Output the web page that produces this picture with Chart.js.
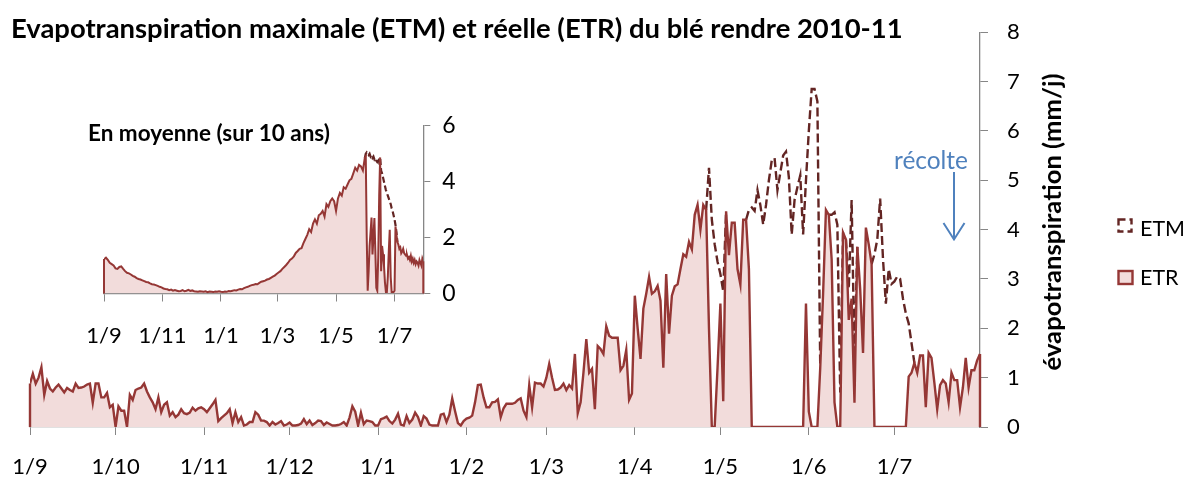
<!DOCTYPE html>
<html>
<head>
<meta charset="utf-8">
<title>ETM et ETR du blé 2010-11</title>
<script src="https://cdn.jsdelivr.net/npm/chart.js@4.4.1/dist/chart.umd.min.js"></script>
<style>
  html, body { margin: 0; padding: 0; background: #fff; }
  #wrap { position: relative; width: 1195px; height: 479px; overflow: hidden; }
  #main { position: absolute; left: 0; top: 0; }
  #inset { position: absolute; left: 60px; top: 100px; }
</style>
</head>
<body>
<div id="wrap">
  <canvas id="main" width="1195" height="479"></canvas>
  <canvas id="inset" width="400" height="250"></canvas>
</div>
<script>
// Colours and fonts
const FONT = 'Lato, "Open Sans", sans-serif';
const AXIS_GREY = '#868686';
const ETR_LINE = '#953735';
const ETR_FILL = '#F2DCDB';
const ETM_LINE = '#632523';
const NOTE_BLUE = '#4F81BD';

// Month ticks (day index from 1 Sept 2010)
const monthTicks = [0, 30, 61, 91, 122, 153, 181, 212, 242, 273, 303];
const monthLabels = ['1/9', '1/10', '1/11', '1/12', '1/1', '1/2', '1/3', '1/4', '1/5', '1/6', '1/7'];
const insetTicks = [0, 61, 122, 181, 242, 303];
const insetLabels = ['1/9', '1/11', '1/1', '1/3', '1/5', '1/7'];

// ETR 2010-11, one value per day (mm/j), 1/9 -> 31/7
const etr = [
  0.88, 1.08, 0.88, 1.0, 1.21, 0.65, 0.93, 0.78, 0.72, 0.8,
  0.86, 0.78, 0.7, 0.79, 0.75, 0.72, 0.88, 0.79, 0.8, 0.82,
  0.86, 0.88, 0.49, 0.88, 0.88, 0.6, 0.6, 0.69, 0.4, 0.45,
  0, 0.42, 0.33, 0.33, 0, 0.65, 0.55, 0.75, 0.78, 0.8,
  0.88, 0.72, 0.6, 0.5, 0.36, 0.6, 0.3, 0.45, 0.5, 0.23,
  0.3, 0.2, 0.25, 0.36, 0.28, 0.26, 0.29, 0.39, 0.33, 0.38,
  0.4, 0.36, 0.3, 0.38, 0.46, 0.55, 0.12, 0.18, 0.23, 0.28,
  0.36, 0.08, 0.3, 0.1, 0.2, 0.03, 0.05, 0.1, 0.1, 0.3,
  0.25, 0.13, 0.13, 0.1, 0.03, 0.1, 0.05, 0.08, 0.12, 0.03,
  0.05, 0.09, 0.03, 0.03, 0.04, 0.07, 0.16, 0.06, 0.13, 0.04,
  0.08, 0.13, 0.12, 0.04, 0.09, 0.06, 0.03, 0.03, 0.04, 0.06,
  0.1, 0.03, 0.19, 0.42, 0.31, 0.03, 0.29, 0.06, 0.13, 0.12,
  0.1, 0.03, 0.03, 0.16, 0.18, 0.21, 0.12, 0.07, 0.15, 0.27,
  0.05, 0.03, 0.22, 0.08, 0.15, 0.29, 0.2, 0.03, 0.22, 0.17,
  0.05, 0.03, 0.03, 0.03, 0.25, 0.27, 0.1, 0.25, 0.58, 0.32,
  0.08, 0.03, 0.12, 0.17, 0.19, 0.23, 0.5, 0.85, 0.86, 0.6,
  0.4, 0.4, 0.5, 0.51, 0.56, 0.2, 0.38, 0.47, 0.47, 0.47,
  0.49, 0.55, 0.58, 0.33, 0.2, 0.85, 0.4, 0.9, 0.88, 0.88,
  0.82, 1.0, 1.28, 1.0, 0.75, 0.76, 0.8, 0.88, 0.75, 0.85,
  0.78, 1.48, 0.28, 0.5, 1.1, 1.78, 1.1, 1.18, 0.36, 1.64,
  1.58, 1.48, 2.04, 1.85, 1.81, 1.81, 1.81, 1.15, 1.24, 1.56,
  0.55, 0.68, 2.66, 2.0, 1.38, 2.4, 2.7, 3.04, 2.7, 2.75,
  2.86, 2.56, 1.2, 3.1, 1.89, 2.66, 2.85, 2.89, 3.2, 3.5,
  3.45, 3.75, 3.6, 4.3, 4.5, 4.0, 4.5, 4.4, 2.0, 0,
  0, 1.2, 2.5, 0.52, 4.37, 3.48, 4.14, 4.14, 3.2, 2.89,
  4.2, 4.2, 3.2, 0, 0, 0, 0, 0, 0, 0,
  0, 0, 0, 0, 0, 0, 0, 0, 0, 0,
  0, 0, 2.5, 0.31, 0, 0, 0, 1.2, 2.7, 4.4,
  4.3, 3.4, 0.5, 0, 0, 3.94, 3.8, 2.17, 2.6, 0.49,
  3.65, 2.8, 1.5, 4.04, 3.7, 3.3, 0, 0, 0, 0,
  0, 0, 0, 0, 0, 0, 0, 0, 1.02, 1.1,
  1.3, 1.1, 1.45, 1.45, 0.4, 1.5, 1.4, 0.9, 0.36, 0.85,
  0.95, 0.88, 0.5, 1.1, 0.95, 0.95, 0.4, 0.8, 1.4, 0.8,
  1.15, 1.15, 1.35, 1.48
];

// ETM where it is above ETR (elsewhere ETM = ETR)
const etmDays = [
  238, 239, 240, 241, 242, 243,
  252, 253, 254, 255, 256, 257, 258, 259, 260, 261, 262, 263, 264, 265,
  266, 267, 268, 269, 270, 271, 272, 273, 274, 275, 276,
  281, 282, 283, 284, 287, 288, 289,
  296, 297, 298, 299, 300, 301, 302, 303, 304, 305, 306, 307, 308, 309
];
const etmValues = [
  5.25, 4.2, 3.7, 3.35, 3.1, 2.75,
  4.4, 4.45, 4.38, 4.8, 4.5, 4.1, 4.5, 5.0, 5.4, 5.45, 4.8, 5.15, 5.5, 5.58,
  5.06, 3.9, 4.6, 4.86, 5.1, 3.9, 5.0, 6.0, 6.85, 6.85, 6.6,
  4.3, 4.35, 4.1, 0.7, 2.8, 4.6, 1.4,
  3.5, 3.8, 4.63, 3.4, 2.5, 3.2, 2.9, 2.95, 3.05, 3.0, 2.6, 2.3, 2.1, 1.7
];

// Inset: 10-year mean ETR, every 2 days from day 0 to day 272
const insetEtrEarly = [
  1.23, 1.28, 1.2, 1.1, 1.05, 1.0, 0.9, 0.88, 0.95, 0.97, 0.88, 0.8, 0.74, 0.72, 0.68, 0.63,
  0.6, 0.55, 0.52, 0.5, 0.47, 0.44, 0.41, 0.4, 0.36, 0.33, 0.32, 0.3, 0.27, 0.24, 0.22,
  0.18, 0.16, 0.15, 0.12, 0.14, 0.1, 0.12, 0.1, 0.08, 0.09, 0.12, 0.08, 0.1, 0.13, 0.09, 0.11, 0.08, 0.07, 0.06, 0.08,
  0.07, 0.06, 0.08, 0.05, 0.07, 0.06, 0.05, 0.07, 0.06, 0.08, 0.06, 0.05, 0.07, 0.06, 0.09, 0.08, 0.1, 0.12, 0.11, 0.14,
  0.16, 0.15, 0.19, 0.22, 0.24, 0.27, 0.3, 0.31, 0.34, 0.33, 0.38, 0.42, 0.44, 0.46, 0.5, 0.52, 0.56, 0.6, 0.64, 0.7,
  0.75, 0.8, 0.88, 0.95, 1.02, 1.1, 1.2, 1.25, 1.33, 1.45, 1.52, 1.6, 1.62, 1.8, 1.95, 2.1, 2.3, 2.2, 2.5, 2.65,
  2.5, 2.8, 2.85, 2.95, 2.75, 3.2, 3.1, 3.3, 3.4, 3.3, 2.95, 3.4, 3.6, 3.5, 3.8, 3.75, 3.9, 4.05, 4.1, 4.3,
  4.5, 4.4, 4.6, 4.55, 4.4, 4.85
];
// Inset: daily from day 273 to day 333
const insetEtrLate = [
  4.9, 2.0, 0.1, 0.8, 1.7, 2.2, 2.72, 1.4, 2.0, 2.7,
  1.5, 0.2, 0.1, 1.3, 3.5, 4.87, 0.8, 1.7, 1.4, 1.0,
  0.4, 0.05, 0.05, 0.6, 1.5, 2.28, 0.6, 0.05, 0.05, 0.05,
  0.1, 2.4, 2.1, 1.84, 1.75, 1.6, 1.65, 1.44, 1.5, 1.6,
  1.45, 1.4, 1.35, 1.38, 1.25, 1.3, 1.2, 1.35, 1.15, 1.25,
  1.1, 1.2, 1.05, 1.15, 1.1, 1.0, 1.2, 1.1, 1.0, 1.25,
  1.15
];
// Inset: mean ETM from day 273 to day 306
const insetEtmLate = [
  5.0, 5.05, 5.0, 4.95, 5.0, 4.9, 4.95, 4.85, 4.9, 4.8,
  4.85, 4.75, 4.7, 4.75, 4.6, 4.87, 4.4, 4.3, 4.15, 4.0,
  3.85, 3.7, 3.6, 3.5, 3.4, 3.3, 3.2, 3.05, 2.95, 2.8,
  2.65, 2.45, 2.2, 1.84
];

// Build points
const etrPoints = etr.map((v, i) => ({ x: i, y: v }));
const etmPoints = etr.map((v, i) => {
  const k = etmDays.indexOf(i);
  return { x: i, y: k >= 0 ? etmValues[k] : v };
});
const insetEtrPoints = insetEtrEarly.map((v, i) => ({ x: i * 2, y: v }))
  .concat(insetEtrLate.map((v, i) => ({ x: 273 + i, y: v })));
const insetEtmPoints = insetEtrEarly.map((v, i) => ({ x: i * 2, y: v }))
  .concat(insetEtrLate.map((v, i) => ({ x: 273 + i, y: i < insetEtmLate.length ? insetEtmLate[i] : v })));

// Hide ETM segments lying on top of ETR
function etmSegment(etmPts, etrPts) {
  return (ctx) => {
    const a = ctx.p0DataIndex, b = ctx.p1DataIndex;
    if (etmPts[a].y === etrPts[a].y && etmPts[b].y === etrPts[b].y) return 'rgba(0,0,0,0)';
    return ETM_LINE;
  };
}

function fitText(ctx, text, weight, width) {
  ctx.font = `${weight} 20px ${FONT}`;
  const size = 20 * width / ctx.measureText(text).width;
  ctx.font = `${weight} ${size.toFixed(2)}px ${FONT}`;
  return size;
}

// Excel draws the area outline down to the axis at both ends
const areaEdges = {
  id: 'areaEdges',
  afterDatasetsDraw(chart) {
    const pts = chart.getDatasetMeta(0).data;
    const y0 = chart.scales.y.getPixelForValue(0);
    const ctx = chart.ctx;
    ctx.save();
    ctx.strokeStyle = ETR_LINE;
    ctx.lineWidth = chart.data.datasets[0].borderWidth;
    ctx.beginPath();
    [pts[0], pts[pts.length - 1]].forEach(p => {
      ctx.moveTo(p.x, p.y);
      ctx.lineTo(p.x, y0);
    });
    ctx.stroke();
    ctx.restore();
  }
};

const mainDecor = {
  id: 'mainDecor',
  afterDraw(chart) {
    const ctx = chart.ctx;
    ctx.save();
    // title
    ctx.fillStyle = '#000';
    ctx.textAlign = 'left';
    ctx.textBaseline = 'alphabetic';
    fitText(ctx, 'Evapotranspiration maximale (ETM) et réelle (ETR) du blé rendre 2010-11', 'bold', 892);
    ctx.fillText('Evapotranspiration maximale (ETM) et réelle (ETR) du blé rendre 2010-11', 11, 38);

    // y axis title, reading upwards
    ctx.save();
    ctx.translate(1053, 222);
    ctx.rotate(-Math.PI / 2);
    ctx.textAlign = 'center';
    ctx.textBaseline = 'middle';
    fitText(ctx, 'évapotranspiration (mm/j)', 'bold', 297);
    ctx.fillText('évapotranspiration (mm/j)', 0, 0);
    ctx.restore();

    // harvest note
    ctx.fillStyle = NOTE_BLUE;
    fitText(ctx, 'récolte', 'normal', 74);
    ctx.fillText('récolte', 894, 169);
    ctx.strokeStyle = NOTE_BLUE;
    ctx.lineWidth = 2;
    ctx.beginPath();
    ctx.moveTo(954, 172);
    ctx.lineTo(954, 239);
    ctx.moveTo(943.5, 223);
    ctx.lineTo(954, 239.5);
    ctx.lineTo(964.5, 223);
    ctx.stroke();

    // legend
    ctx.lineWidth = 2.4;
    ctx.strokeStyle = ETM_LINE;
    ctx.setLineDash([7, 4]);
    ctx.strokeRect(1118.5, 219.5, 13, 12);
    ctx.setLineDash([]);
    ctx.fillStyle = ETR_FILL;
    ctx.fillRect(1118.5, 271, 14, 13);
    ctx.strokeStyle = ETR_LINE;
    ctx.strokeRect(1118.5, 271, 14, 13);
    ctx.fillStyle = '#000';
    fitText(ctx, 'ETM', 'normal', 45);
    ctx.fillText('ETM', 1140, 236);
    ctx.fillText('ETR', 1140, 285);
    ctx.restore();
  }
};

const insetDecor = {
  id: 'insetDecor',
  afterDraw(chart) {
    const ctx = chart.ctx;
    ctx.save();
    ctx.fillStyle = '#000';
    ctx.textAlign = 'left';
    ctx.textBaseline = 'alphabetic';
    fitText(ctx, 'En moyenne (sur 10 ans)', 'bold', 242);
    ctx.fillText('En moyenne (sur 10 ans)', 28, 41);
    ctx.restore();
  }
};

function axisX(ticks, labels, height, padding) {
  return {
    type: 'linear', min: 0, max: 333,
    afterBuildTicks: (s) => { s.ticks = ticks.map(v => ({ value: v })); },
    // fixed height, and no extra side padding for the end labels
    afterFit: (s) => { s.height = height; s.paddingLeft = 0; s.paddingRight = 0; },
    grid: { drawOnChartArea: false, drawTicks: true, tickLength: 8, color: AXIS_GREY, lineWidth: 1 },
    border: { display: true, color: AXIS_GREY, width: 1.3 },
    ticks: {
      autoSkip: false, maxRotation: 0, padding: padding, color: '#000',
      font: { family: FONT, size: 22 },
      callback: (v, i) => labels[i]
    }
  };
}

function axisY(max, step, width, tickLength, padding, size) {
  return {
    position: 'right', min: 0, max: max,
    afterFit: (s) => { s.width = width; },
    grid: { drawOnChartArea: false, drawTicks: true, tickLength: tickLength, color: AXIS_GREY, lineWidth: 1 },
    border: { display: true, color: AXIS_GREY, width: 1.3 },
    ticks: { stepSize: step, padding: padding, color: '#000', font: { family: FONT, size: size } }
  };
}

// Main chart
new Chart(document.getElementById('main'), {
  type: 'line',
  data: {
    datasets: [
      {
        label: 'ETR', data: etrPoints, order: 1,
        borderColor: ETR_LINE, backgroundColor: ETR_FILL, borderWidth: 2.4,
        fill: 'origin', pointRadius: 0, tension: 0
      },
      {
        label: 'ETM', data: etmPoints, order: 2,
        borderColor: ETM_LINE, borderWidth: 2.4, borderDash: [9, 4],
        fill: false, pointRadius: 0, tension: 0,
        segment: { borderColor: etmSegment(etmPoints, etrPoints) }
      }
    ]
  },
  options: {
    responsive: false, animation: false, devicePixelRatio: 1,
    layout: { padding: { left: 30, top: 20, right: 0, bottom: 0 } },
    plugins: { legend: { display: false }, tooltip: { enabled: false }, title: { display: false } },
    scales: {
      x: axisX(monthTicks, monthLabels, 52, 19),
      y: axisY(8, 1, 215, 8, 19, 22)
    }
  },
  plugins: [areaEdges, mainDecor]
});

// Inset: 10-year average
new Chart(document.getElementById('inset'), {
  type: 'line',
  data: {
    datasets: [
      {
        label: 'ETR', data: insetEtrPoints, order: 1,
        borderColor: ETR_LINE, backgroundColor: ETR_FILL, borderWidth: 2,
        fill: 'origin', pointRadius: 0, tension: 0
      },
      {
        label: 'ETM', data: insetEtmPoints, order: 2,
        borderColor: ETM_LINE, borderWidth: 2.2, borderDash: [6, 3],
        fill: false, pointRadius: 0, tension: 0,
        segment: { borderColor: etmSegment(insetEtmPoints, insetEtrPoints) }
      }
    ]
  },
  options: {
    responsive: false, animation: false, devicePixelRatio: 1,
    layout: { padding: { left: 44, top: 17, right: 0, bottom: 0 } },
    plugins: { legend: { display: false }, tooltip: { enabled: false } },
    scales: {
      x: axisX(insetTicks, insetLabels, 56.5, 21),
      y: axisY(6, 2, 36.7, 7, 12, 23)
    }
  },
  plugins: [areaEdges, insetDecor]
});
</script>
</body>
</html>
